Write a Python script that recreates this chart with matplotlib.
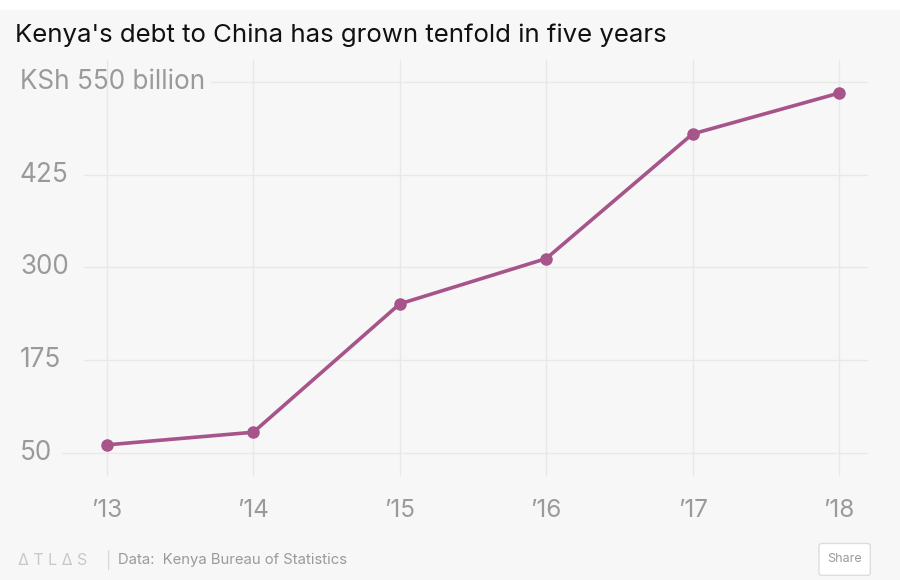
import matplotlib.pyplot as plt
from matplotlib.patches import Rectangle, FancyBboxPatch

years = [2013, 2014, 2015, 2016, 2017, 2018]
year_labels = ['\u201913', '\u201914', '\u201915', '\u201916', '\u201917', '\u201918']
debt = [61, 78, 251, 312, 480, 535]
yticks = [50, 175, 300, 425, 550]
ytick_labels = ['50', '175', '300', '425', 'KSh 550 billion']

bg = '#f7f7f7'
grid = '#e8e8e8'
gray = '#9a9a9a'
line_color = '#a7548a'

plt.rcParams['font.family'] = ['Inter', 'DejaVu Sans']

fig = plt.figure(figsize=(9, 5.8), dpi=100, facecolor=bg)
fig.patches.append(Rectangle((0, 0.982), 1, 0.02, transform=fig.transFigure,
                             facecolor='white', edgecolor='none', zorder=0))

ax = fig.add_axes([0.0222, 0.1793, 0.9422, 0.7172])
ax.set_facecolor(bg)
ax.set_xlim(2012.406, 2018.198)
ax.set_ylim(19, 579.6)
for s in ax.spines.values():
    s.set_visible(False)
ax.set_xticks([])
ax.set_yticks([])

# vertical gridlines
for yr in years:
    ax.axvline(yr, color=grid, lw=1, zorder=1)

# horizontal gridlines start after their labels
starts = {50: 0.050, 175: 0.076, 300: 0.076, 425: 0.076, 550: 0.225}
for v, lab in zip(yticks, ytick_labels):
    ax.axhline(v, xmin=starts[v], xmax=1, color=grid, lw=1, zorder=1)
    ax.text(0, v, lab, transform=ax.get_yaxis_transform(), ha='left',
            va='center', fontsize=18.8, color=gray)

for yr, lab in zip(years, year_labels):
    ax.text(yr, -0.082, lab, transform=ax.get_xaxis_transform(), ha='center',
            va='center', fontsize=17.5, color=gray)

ax.plot(years, debt, color=line_color, lw=2.6, marker='o', markersize=8,
        zorder=3, solid_capstyle='round')

fig.text(0.017, 0.94, "Kenya's debt to China has grown tenfold in five years",
         fontsize=18.6, color='#111111', ha='left', va='center')

fig.text(0.02, 0.034, '\u2206 T L \u2206 S', fontsize=11.5, color='#c8c8c8',
         ha='left', va='center')
fig.text(0.118, 0.034, '|', fontsize=11, color='#d5d5d5', ha='left', va='center')
fig.text(0.131, 0.034, 'Data:  Kenya Bureau of Statistics', fontsize=10.7,
         color=gray, ha='left', va='center')

fig.patches.append(FancyBboxPatch((0.91, 0.008), 0.057, 0.055,
                                  boxstyle='round,pad=0,rounding_size=0.004',
                                  transform=fig.transFigure, facecolor='white',
                                  edgecolor='#dddddd', lw=1))
fig.text(0.9385, 0.036, 'Share', fontsize=9, color=gray, ha='center', va='center')

fig.savefig('out.png', dpi=100, facecolor=bg)
